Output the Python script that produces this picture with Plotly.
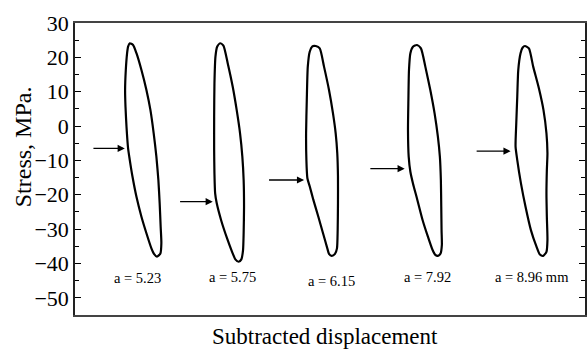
import plotly.graph_objects as go

# Stress axis ticks
y_ticks = [-50, -40, -30, -20, -10, 0, 10, 20, 30]

# Hysteresis loops: subtracted displacement (arbitrary units) and stress (MPa)
loop1_x = [55.0, 58.3, 61.7, 66.7, 71.7, 75.7, 79.0, 81.7, 83.7, 85.0, 86.0, 86.7, 85.7, 82.3, 79.3, 76.7,
           71.7, 66.7, 61.7, 57.7, 55.0, 53.3, 51.7, 50.7, 50.3, 51.0, 52.3, 53.3, 55.0]
loop1_y = [24.1, 23.6, 21.2, 16.3, 10.5, 4.7, -2.1, -8.9, -15.7, -22.5, -29.3, -34.1, -37.1, -38.0, -37.2, -35.6,
           -31.2, -26.4, -20.6, -14.7, -9.9, -6.5, -0.2, 5.6, 10.5, 16.3, 21.2, 23.1, 24.1]

loop2_x = [145.7, 149.0, 153.3, 158.3, 162.3, 165.7, 168.0, 169.3, 169.7, 169.3, 168.7, 167.0, 164.3, 161.0,
           157.7, 152.7, 146.7, 142.3, 140.7, 140.0, 139.7, 139.7, 140.0, 141.0, 142.7, 145.7]
loop2_y = [24.1, 23.4, 18.3, 11.5, 4.7, -2.1, -8.9, -15.7, -23.5, -31.2, -36.1, -38.8, -39.5, -38.8,
           -36.6, -32.7, -27.4, -22.5, -19.6, -13.8, -7.0, 2.7, 12.4, 20.2, 23.1, 24.1]

loop3_x = [241.7, 245.7, 250.0, 255.0, 259.0, 261.7, 263.3, 264.0, 264.0, 263.7, 263.0, 261.0, 257.7, 255.0,
           253.3, 249.0, 244.3, 239.3, 235.7, 233.3, 232.3, 232.0, 232.7, 233.7, 235.7, 238.3, 241.7]
loop3_y = [23.3, 22.6, 17.3, 10.5, 3.7, -2.1, -7.9, -14.7, -22.5, -30.3, -35.6, -37.2, -37.8, -37.2,
           -35.6, -31.2, -26.4, -21.5, -17.6, -15.2, -9.9, -2.1, 7.6, 17.3, 21.7, 23.2, 23.3]

loop4_x = [343.3, 347.3, 351.7, 356.7, 361.0, 364.3, 366.3, 367.3, 367.7, 368.0, 368.3, 367.0, 364.3, 361.7,
           359.0, 354.3, 349.0, 343.7, 339.3, 336.7, 335.0, 334.3, 334.7, 335.3, 336.7, 339.3, 343.3]
loop4_y = [23.6, 22.6, 17.3, 10.5, 3.7, -3.1, -8.9, -15.7, -23.5, -30.3, -34.6, -37.1, -37.8, -37.5,
           -36.1, -32.2, -27.4, -21.5, -16.7, -13.3, -8.9, -1.2, 7.6, 16.3, 21.2, 23.1, 23.6]

loop5_x = [451.7, 455.7, 460.0, 465.7, 470.3, 473.3, 474.3, 473.7, 473.3, 473.7, 474.3, 473.3, 470.0, 466.7,
           463.3, 457.7, 452.3, 447.7, 444.0, 442.3, 443.0, 444.0, 445.0, 447.3, 449.3, 451.7]
loop5_y = [23.3, 22.6, 17.3, 11.0, 4.7, -2.1, -7.9, -12.8, -19.6, -26.4, -33.2, -36.6, -37.8, -37.4,
           -35.1, -30.3, -23.5, -16.7, -9.9, -6.0, 0.8, 8.6, 16.3, 21.2, 22.8, 23.3]

# Arrows (tail x, tip x, stress level)
arrow_tail_x = [17.0, 104.0, 193.3, 295.0, 401.7]
arrow_tip_x = [50.0, 138.3, 230.0, 331.0, 437.3]
arrow_y = [-6.5, -22.0, -15.7, -12.4, -7.3]

# Crack length labels
label_text = ["a = 5.23", "a = 5.75", "a = 6.15", "a = 7.92", "a = 8.96 mm"]
label_x = [62.7, 158.3, 257.3, 354.0, 458.3]
label_y = [-44.3, -43.8, -45.0, -43.8, -44.0]

loops = [(loop1_x, loop1_y), (loop2_x, loop2_y), (loop3_x, loop3_y), (loop4_x, loop4_y), (loop5_x, loop5_y)]

SERIF = "Liberation Serif, Times New Roman, serif"

fig = go.Figure()
for lx, ly in loops:
    fig.add_trace(go.Scatter(x=lx, y=ly, mode="lines", line=dict(color="black", width=2.2, shape="spline", smoothing=0.6),
                             showlegend=False, hoverinfo="skip"))

annotations = []
for tx, hx, ay in zip(arrow_tail_x, arrow_tip_x, arrow_y):
    annotations.append(dict(x=hx, y=ay, ax=tx, ay=ay, xref="x", yref="y", axref="x", ayref="y",
                            text="", showarrow=True, arrowhead=2, arrowsize=1.1, arrowwidth=1.3,
                            arrowcolor="black", standoff=0))
for t, lx, ly in zip(label_text, label_x, label_y):
    annotations.append(dict(x=lx, y=ly, xref="x", yref="y", text=t, showarrow=False,
                            xanchor="center", yanchor="middle",
                            font=dict(family=SERIF, size=14.5, color="black")))
annotations.append(dict(x=-0.1016, y=0.575, xref="paper", yref="paper", text="Stress, MPa.", textangle=-90,
                        xanchor="center", yanchor="middle",
                        showarrow=False, font=dict(family=SERIF, size=24, color="black")))
annotations.append(dict(x=0.49, y=-0.072, xref="paper", yref="paper", text="Subtracted displacement",
                        showarrow=False, xanchor="center", yanchor="middle",
                        font=dict(family=SERIF, size=23, color="black")))

fig.update_layout(
    width=587, height=352,
    margin=dict(l=75, r=0, t=23, b=37),
    paper_bgcolor="white", plot_bgcolor="white",
    showlegend=False,
    annotations=annotations,
    xaxis=dict(range=[0, 512], showticklabels=False, ticks="", showgrid=False, zeroline=False,
               showline=True, linecolor="#444", linewidth=2, mirror=True, fixedrange=True),
    yaxis=dict(range=[-55, 30], tickvals=y_ticks, ticks="inside", ticklen=6, tickwidth=1.2, tickcolor="black",
               showgrid=False, zeroline=False, showline=True, linecolor="#222", linewidth=1.5, mirror="ticks",
               tickfont=dict(family=SERIF, size=22, color="black"),
               minor=dict(dtick=5, tick0=0, ticks="inside", ticklen=4, tickwidth=1.2, tickcolor="black")),
)

fig.write_html("out.html")
